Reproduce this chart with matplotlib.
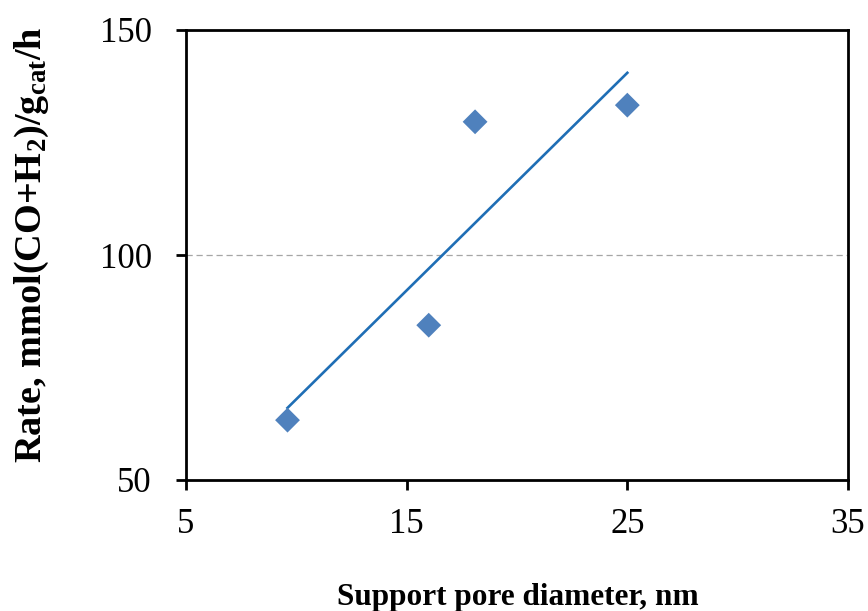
import numpy as np
import matplotlib
matplotlib.use("Agg")
import matplotlib.pyplot as plt

plt.rcParams['font.family'] = ['Liberation Serif', 'DejaVu Serif']
plt.rcParams['mathtext.fontset'] = 'custom'
plt.rcParams['mathtext.rm'] = 'Liberation Serif'
plt.rcParams['mathtext.bf'] = 'Liberation Serif:bold'
plt.rcParams['mathtext.it'] = 'Liberation Serif:italic'

pore_diameter = [9.6, 16.0, 18.1, 25.0]
rate = [63.3, 84.4, 129.6, 133.3]
x_ticks = [5, 15, 25, 35]
y_ticks = [50, 100, 150]

W, H = 868, 611
fig = plt.figure(figsize=(W/100, H/100), dpi=100)
ax = fig.add_axes([186/W, 1-480/H, (848-186)/W, (480-30)/H])

# linear trendline
coef = np.polyfit(pore_diameter, rate, 1)
xf = np.array([min(pore_diameter), max(pore_diameter)])
ax.plot(xf, np.polyval(coef, xf), color='#1F6EB5', lw=1.9, zorder=2)

ax.scatter(pore_diameter, rate, marker='D', s=160, color='#4F81BD',
           edgecolors='none', zorder=3)

ax.set_xlim(5, 35)
ax.set_ylim(50, 150)
ax.set_xticks(x_ticks)
ax.set_yticks(y_ticks)
ax.yaxis.grid(True, linestyle=(0, (5, 3)), color='#A6A6A6', lw=0.9)
ax.set_axisbelow(True)

for s in ax.spines.values():
    s.set_linewidth(2)
    s.set_color('black')
ax.tick_params(axis='both', direction='out', length=7.5, width=2,
               labelsize=25, colors='black')
ax.tick_params(axis='x', pad=13)
ax.tick_params(axis='y', pad=17)

fig.text(518/W, 1-605/H, 'Support pore diameter, nm', fontsize=22.5,
         fontweight='bold', ha='center', va='baseline')
fig.text(32/W, 1-245/H, r'Rate, mmol(CO+H$_\mathbf{2}$)/g$_\mathbf{cat}$/h',
         fontsize=27.5, fontweight='bold', rotation=90,
         ha='center', va='center', rotation_mode='anchor')

fig.savefig('out.png', dpi=100)
